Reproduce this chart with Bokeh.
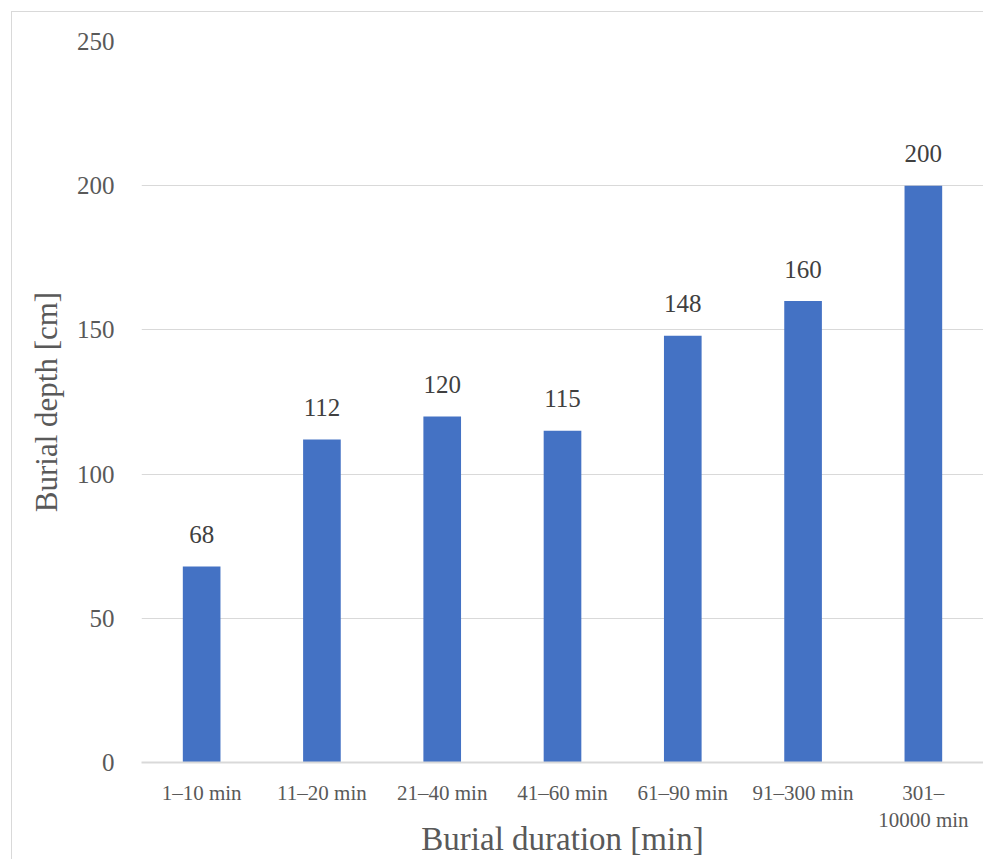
from bokeh.plotting import figure
from bokeh.models import ColumnDataSource, FactorRange, CategoricalAxis
from bokeh.embed import file_html
from bokeh.resources import INLINE
from bokeh.core.properties import value

# category labels, first and second text line
categories = ["1–10 min", "11–20 min", "21–40 min", "41–60 min", "61–90 min", "91–300 min", "301–"]
categories_line2 = [" ", "  ", "   ", "    ", "     ", "      ", "10000 min"]
depths = [68, 112, 120, 115, 148, 160, 200]
y_ticks = [0, 50, 100, 150, 200, 250]

FONT = "Liberation Serif"
GRID = "#d9d9d9"
TXT = "#595959"

src = ColumnDataSource(dict(cat=categories, depth=depths, lab=[str(d) for d in depths]))

p = figure(x_range=FactorRange(factors=categories, range_padding=0), y_range=(0, 250),
           width=972, height=848,
           output_backend="svg", toolbar_location=None,
           min_border_left=129, min_border_right=1, min_border_top=29, min_border_bottom=98,
           margin=(11, 0, 0, 11),
           styles={"border-left": "1px solid #d9d9d9", "border-top": "1px solid #d9d9d9"})
p.extra_x_ranges = {"line2": FactorRange(factors=categories_line2, range_padding=0)}
p.outline_line_color = None
p.background_fill_color = "white"

p.vbar(x="cat", top="depth", width=0.313, source=src, color="#4472C4", line_color=None)
p.text(x="cat", y="depth", text="lab", source=src, text_align="center", text_baseline="alphabetic",
       y_offset=-32, text_font=value(FONT), text_font_size="25px", text_color="#404040")

p.xgrid.grid_line_color = None
p.ygrid.grid_line_color = GRID
p.ygrid.grid_line_width = 1
p.yaxis.ticker = y_ticks
p.yaxis.axis_line_color = None
p.yaxis.major_tick_line_color = None
p.yaxis.minor_tick_line_color = None
p.yaxis.major_tick_out = 0
p.yaxis.major_label_standoff = 27
p.yaxis.major_label_text_font = FONT
p.yaxis.major_label_text_font_size = "25px"
p.yaxis.major_label_text_color = TXT
p.yaxis.axis_label = "Burial depth [cm]"
p.yaxis.axis_label_text_font = FONT
p.yaxis.axis_label_text_font_size = "31px"
p.yaxis.axis_label_text_font_style = "normal"
p.yaxis.axis_label_text_color = TXT
p.yaxis.axis_label_standoff = 10

ax1 = p.xaxis[0]
ax1.axis_line_color = GRID
ax1.axis_line_width = 2
ax1.major_tick_line_color = None
ax1.major_tick_out = 0
ax1.major_label_standoff = 18
ax1.major_label_text_font = FONT
ax1.major_label_text_font_size = "21px"
ax1.major_label_text_color = TXT

ax2 = CategoricalAxis(x_range_name="line2")
ax2.axis_line_color = None
ax2.major_tick_line_color = None
ax2.minor_tick_line_color = None
ax2.major_tick_out = 0
ax2.major_tick_in = 0
ax2.major_label_standoff = 0
ax2.major_label_text_font = FONT
ax2.major_label_text_font_size = "21px"
ax2.major_label_text_color = TXT
ax2.axis_label = "Burial duration [min]"
ax2.axis_label_text_font = FONT
ax2.axis_label_text_font_size = "33px"
ax2.axis_label_text_font_style = "normal"
ax2.axis_label_text_color = TXT
ax2.axis_label_standoff = -14
p.add_layout(ax2, "below")

open("out.html", "w").write(file_html(p, INLINE))
